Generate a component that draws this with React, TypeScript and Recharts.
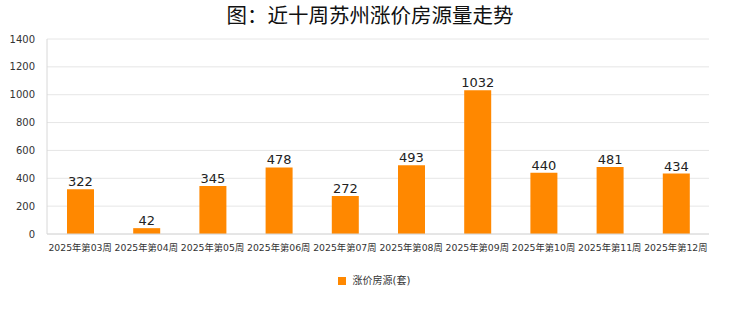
import React from "react";
import { BarChart, Bar, XAxis, YAxis, CartesianGrid, Legend, LabelList } from "recharts";

const categories = ["2025年第03周", "2025年第04周", "2025年第05周", "2025年第06周", "2025年第07周", "2025年第08周", "2025年第09周", "2025年第10周", "2025年第11周", "2025年第12周"];
const values = [322, 42, 345, 478, 272, 493, 1032, 440, 481, 434];
const yTicks = [0, 200, 400, 600, 800, 1000, 1200, 1400];
const seriesName = "涨价房源(套)";
const title = "图：近十周苏州涨价房源量走势";

const data = categories.map((c, i) => ({ week: c, v: values[i] }));

const font = '"DejaVu Sans", "Noto Sans CJK SC", sans-serif';

export default function App() {
  return (
    <div style={{ position: "absolute", left: 0, top: 0, width: 740, height: 312, background: "#fff", fontFamily: font }}>
      <div style={{ position: "absolute", left: 0, top: 0, width: 740, textAlign: "center", fontSize: 20.5, fontWeight: 400, color: "#111", fontFamily: '"Noto Sans CJK SC", sans-serif', lineHeight: "28px" }}>{title}</div>
      <BarChart width={740} height={312} data={data} margin={{ top: 39, right: 31, left: 0, bottom: 58 }}>
        <CartesianGrid vertical={false} stroke="#e6e6e6" />
        <XAxis dataKey="week" tickLine={false} axisLine={{ stroke: "#d8d8d8" }} tick={{ fontSize: 9.3, fill: "#333", fontFamily: font }} interval={0} height={20} tickMargin={4} />
        <YAxis width={47} domain={[0, 1400]} ticks={yTicks} tickLine={false} axisLine={{ stroke: "#d8d8d8" }} tick={{ fontSize: 10, fill: "#333", fontFamily: font }} tickMargin={6} />
        <YAxis yAxisId="r" orientation="right" width={0} tick={false} tickLine={false} axisLine={{ stroke: "#d8d8d8" }} />
        <Legend verticalAlign="middle" align="center" iconType="square" iconSize={8}
          wrapperStyle={{ top: 272, left: 9, width: 740, fontSize: 10, color: "#333", fontFamily: font }}
          formatter={(v) => <span style={{ color: "#333", marginLeft: 3 }}>{v}</span>} />
        <Bar dataKey="v" name={seriesName} fill="#FF8800" barSize={27} isAnimationActive={false}>
          <LabelList dataKey="v" position="top" offset={3} style={{ fontSize: 13, fill: "#222", fontFamily: font }} />
        </Bar>
      </BarChart>
    </div>
  );
}
